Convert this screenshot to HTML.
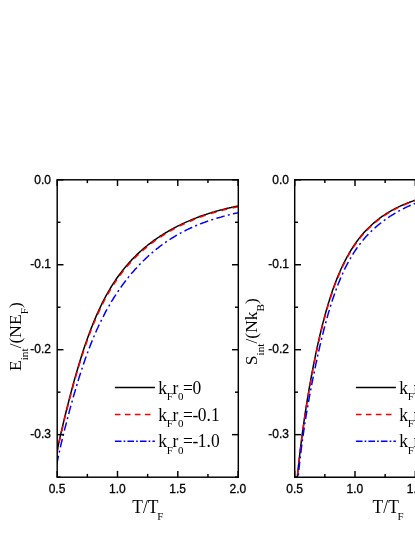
<!DOCTYPE html>
<html><head><meta charset="utf-8"><title>fig</title>
<style>
html,body{margin:0;padding:0;background:#fff;}
body{width:415px;height:537px;overflow:hidden;}
svg{display:block;will-change:transform;}
text{font-family:"Liberation Sans",sans-serif;font-size:12px;fill:#000;stroke:#000;stroke-width:0.3px;}
.se{font-family:"Liberation Serif",serif;font-size:17.5px;stroke:none;}
.sub{font-size:11.3px;}
.yl{font-size:17.5px;}
.hz{font-size:18px;}
.ax line,.ax rect,.ax path{stroke:#000;stroke-width:1.45;fill:none;stroke-linecap:butt;}
.cv path{fill:none;stroke-width:1.5;}
</style></head><body>
<svg width="415" height="537" viewBox="0 0 415 537">
<rect width="415" height="537" fill="#fff"/>
<defs>
<clipPath id="cl"><rect x="57" y="179.8" width="181" height="297.4"/></clipPath>
<clipPath id="cr"><rect x="295" y="179.8" width="130" height="297.4"/></clipPath>
</defs>
<!-- left panel -->
<g class="cv" clip-path="url(#cl)">
<path d="M56.8,452.7 L57.9,447.2 L59.0,441.8 L60.2,436.7 L61.3,431.6 L62.5,426.7 L63.6,421.9 L64.7,417.2 L65.9,412.5 L67.0,407.9 L68.2,403.4 L69.3,399.0 L70.4,394.7 L71.6,390.4 L72.7,386.2 L73.8,382.0 L75.0,377.9 L76.1,373.9 L77.3,370.0 L78.4,366.2 L79.5,362.4 L80.7,358.7 L81.8,355.1 L83.0,351.5 L84.1,348.1 L85.2,344.7 L86.4,341.4 L87.5,338.2 L88.7,335.0 L89.8,332.0 L90.9,329.0 L92.1,326.1 L93.2,323.2 L94.4,320.4 L95.5,317.7 L96.6,315.1 L97.8,312.6 L98.9,310.1 L100.1,307.6 L101.2,305.3 L102.3,302.9 L103.5,300.7 L104.6,298.5 L105.7,296.4 L106.9,294.3 L108.0,292.3 L109.2,290.3 L110.3,288.4 L111.4,286.5 L112.6,284.7 L113.7,282.9 L114.9,281.2 L116.0,279.5 L117.1,277.8 L118.3,276.2 L119.4,274.7 L120.6,273.1 L121.7,271.6 L122.8,270.2 L124.0,268.8 L125.1,267.4 L126.3,266.0 L127.4,264.7 L128.5,263.4 L129.7,262.1 L130.8,260.9 L131.9,259.6 L133.1,258.5 L134.2,257.3 L135.4,256.2 L136.5,255.0 L137.6,253.9 L138.8,252.9 L139.9,251.8 L141.1,250.8 L142.2,249.8 L143.3,248.8 L144.5,247.8 L145.6,246.9 L146.8,246.0 L147.9,245.0 L149.0,244.1 L150.2,243.3 L151.3,242.4 L152.5,241.6 L153.6,240.7 L154.7,239.9 L155.9,239.1 L157.0,238.3 L158.2,237.5 L159.3,236.8 L160.4,236.0 L161.6,235.3 L162.7,234.6 L163.8,233.9 L165.0,233.2 L166.1,232.5 L167.3,231.8 L168.4,231.1 L169.5,230.5 L170.7,229.8 L171.8,229.2 L173.0,228.6 L174.1,228.0 L175.2,227.4 L176.4,226.8 L177.5,226.2 L178.7,225.6 L179.8,225.1 L180.9,224.5 L182.1,224.0 L183.2,223.4 L184.4,222.9 L185.5,222.4 L186.6,221.9 L187.8,221.4 L188.9,220.9 L190.1,220.4 L191.2,219.9 L192.3,219.4 L193.5,219.0 L194.6,218.5 L195.7,218.1 L196.9,217.6 L198.0,217.2 L199.2,216.8 L200.3,216.3 L201.4,215.9 L202.6,215.5 L203.7,215.1 L204.9,214.7 L206.0,214.4 L207.1,214.0 L208.3,213.6 L209.4,213.2 L210.6,212.9 L211.7,212.5 L212.8,212.2 L214.0,211.9 L215.1,211.5 L216.3,211.2 L217.4,210.9 L218.5,210.6 L219.7,210.3 L220.8,209.9 L222.0,209.7 L223.1,209.4 L224.2,209.1 L225.4,208.8 L226.5,208.5 L227.6,208.2 L228.8,208.0 L229.9,207.7 L231.1,207.5 L232.2,207.2 L233.3,207.0 L234.5,206.7 L235.6,206.5 L236.8,206.3 L237.9,206.1" stroke="#000"/>
<path d="M56.8,453.9 L57.9,448.3 L59.0,443.0 L60.2,437.8 L61.3,432.8 L62.5,427.9 L63.6,423.1 L64.7,418.3 L65.9,413.7 L67.0,409.2 L68.2,404.7 L69.3,400.3 L70.4,395.9 L71.6,391.7 L72.7,387.5 L73.8,383.3 L75.0,379.3 L76.1,375.3 L77.3,371.4 L78.4,367.5 L79.5,363.8 L80.7,360.1 L81.8,356.5 L83.0,353.0 L84.1,349.5 L85.2,346.2 L86.4,342.9 L87.5,339.6 L88.7,336.5 L89.8,333.5 L90.9,330.5 L92.1,327.6 L93.2,324.7 L94.4,322.0 L95.5,319.3 L96.6,316.6 L97.8,314.1 L98.9,311.6 L100.1,309.2 L101.2,306.8 L102.3,304.5 L103.5,302.2 L104.6,300.0 L105.7,297.9 L106.9,295.8 L108.0,293.8 L109.2,291.8 L110.3,289.9 L111.4,288.0 L112.6,286.2 L113.7,284.4 L114.9,282.7 L116.0,281.0 L117.1,279.3 L118.3,277.7 L119.4,276.1 L120.6,274.6 L121.7,273.1 L122.8,271.6 L124.0,270.2 L125.1,268.8 L126.3,267.4 L127.4,266.1 L128.5,264.8 L129.7,263.5 L130.8,262.2 L131.9,261.0 L133.1,259.8 L134.2,258.6 L135.4,257.4 L136.5,256.3 L137.6,255.2 L138.8,254.1 L139.9,253.1 L141.1,252.0 L142.2,251.0 L143.3,250.0 L144.5,249.0 L145.6,248.1 L146.8,247.1 L147.9,246.2 L149.0,245.3 L150.2,244.4 L151.3,243.5 L152.5,242.6 L153.6,241.8 L154.7,241.0 L155.9,240.1 L157.0,239.3 L158.2,238.6 L159.3,237.8 L160.4,237.0 L161.6,236.3 L162.7,235.5 L163.8,234.8 L165.0,234.1 L166.1,233.4 L167.3,232.7 L168.4,232.1 L169.5,231.4 L170.7,230.7 L171.8,230.1 L173.0,229.5 L174.1,228.8 L175.2,228.2 L176.4,227.6 L177.5,227.0 L178.7,226.5 L179.8,225.9 L180.9,225.3 L182.1,224.8 L183.2,224.2 L184.4,223.7 L185.5,223.2 L186.6,222.7 L187.8,222.2 L188.9,221.7 L190.1,221.2 L191.2,220.7 L192.3,220.2 L193.5,219.7 L194.6,219.3 L195.7,218.8 L196.9,218.4 L198.0,218.0 L199.2,217.5 L200.3,217.1 L201.4,216.7 L202.6,216.3 L203.7,215.9 L204.9,215.5 L206.0,215.1 L207.1,214.7 L208.3,214.3 L209.4,214.0 L210.6,213.6 L211.7,213.3 L212.8,212.9 L214.0,212.6 L215.1,212.2 L216.3,211.9 L217.4,211.6 L218.5,211.3 L219.7,211.0 L220.8,210.7 L222.0,210.4 L223.1,210.1 L224.2,209.8 L225.4,209.5 L226.5,209.2 L227.6,208.9 L228.8,208.7 L229.9,208.4 L231.1,208.2 L232.2,207.9 L233.3,207.7 L234.5,207.4 L235.6,207.2 L236.8,207.0 L237.9,206.7" stroke="#f00" stroke-dasharray="6 5.2"/>
<path d="M56.8,464.2 L57.9,458.6 L59.0,453.2 L60.2,448.1 L61.3,443.1 L62.5,438.4 L63.6,433.7 L64.7,429.1 L65.9,424.7 L67.0,420.3 L68.2,415.9 L69.3,411.6 L70.4,407.4 L71.6,403.3 L72.7,399.2 L73.8,395.2 L75.0,391.3 L76.1,387.4 L77.3,383.6 L78.4,379.9 L79.5,376.3 L80.7,372.7 L81.8,369.2 L83.0,365.8 L84.1,362.4 L85.2,359.1 L86.4,355.9 L87.5,352.8 L88.7,349.8 L89.8,346.8 L90.9,343.9 L92.1,341.0 L93.2,338.2 L94.4,335.5 L95.5,332.9 L96.6,330.3 L97.8,327.8 L98.9,325.3 L100.1,322.9 L101.2,320.6 L102.3,318.3 L103.5,316.1 L104.6,313.9 L105.7,311.7 L106.9,309.6 L108.0,307.6 L109.2,305.6 L110.3,303.6 L111.4,301.7 L112.6,299.8 L113.7,298.0 L114.9,296.2 L116.0,294.4 L117.1,292.7 L118.3,291.0 L119.4,289.3 L120.6,287.7 L121.7,286.1 L122.8,284.5 L124.0,283.0 L125.1,281.5 L126.3,280.0 L127.4,278.6 L128.5,277.1 L129.7,275.7 L130.8,274.4 L131.9,273.0 L133.1,271.7 L134.2,270.4 L135.4,269.1 L136.5,267.9 L137.6,266.6 L138.8,265.4 L139.9,264.2 L141.1,263.1 L142.2,261.9 L143.3,260.8 L144.5,259.7 L145.6,258.6 L146.8,257.5 L147.9,256.5 L149.0,255.4 L150.2,254.4 L151.3,253.4 L152.5,252.4 L153.6,251.5 L154.7,250.5 L155.9,249.6 L157.0,248.7 L158.2,247.8 L159.3,246.9 L160.4,246.0 L161.6,245.2 L162.7,244.3 L163.8,243.5 L165.0,242.7 L166.1,241.9 L167.3,241.1 L168.4,240.4 L169.5,239.6 L170.7,238.9 L171.8,238.2 L173.0,237.5 L174.1,236.8 L175.2,236.1 L176.4,235.4 L177.5,234.8 L178.7,234.1 L179.8,233.5 L180.9,232.9 L182.1,232.3 L183.2,231.7 L184.4,231.1 L185.5,230.5 L186.6,229.9 L187.8,229.4 L188.9,228.8 L190.1,228.3 L191.2,227.8 L192.3,227.3 L193.5,226.7 L194.6,226.3 L195.7,225.8 L196.9,225.3 L198.0,224.8 L199.2,224.4 L200.3,223.9 L201.4,223.5 L202.6,223.0 L203.7,222.6 L204.9,222.2 L206.0,221.8 L207.1,221.4 L208.3,221.0 L209.4,220.6 L210.6,220.2 L211.7,219.8 L212.8,219.5 L214.0,219.1 L215.1,218.7 L216.3,218.4 L217.4,218.0 L218.5,217.7 L219.7,217.4 L220.8,217.1 L222.0,216.7 L223.1,216.4 L224.2,216.1 L225.4,215.8 L226.5,215.5 L227.6,215.2 L228.8,214.9 L229.9,214.6 L231.1,214.3 L232.2,214.1 L233.3,213.8 L234.5,213.5 L235.6,213.2 L236.8,213.0 L237.9,212.7" stroke="#00f" stroke-dasharray="8.6 3.3 2 3.3"/>
</g>
<g class="ax">
<rect x="57.2" y="179.8" width="181.1" height="297.4"/>
<line x1="57.20" y1="179.8" x2="57.20" y2="186.10000000000002"/>
<line x1="57.20" y1="477.2" x2="57.20" y2="470.9"/>
<line x1="87.35" y1="179.8" x2="87.35" y2="183.10000000000002"/>
<line x1="87.35" y1="477.2" x2="87.35" y2="473.9"/>
<line x1="117.50" y1="179.8" x2="117.50" y2="186.10000000000002"/>
<line x1="117.50" y1="477.2" x2="117.50" y2="470.9"/>
<line x1="147.65" y1="179.8" x2="147.65" y2="183.10000000000002"/>
<line x1="147.65" y1="477.2" x2="147.65" y2="473.9"/>
<line x1="177.80" y1="179.8" x2="177.80" y2="186.10000000000002"/>
<line x1="177.80" y1="477.2" x2="177.80" y2="470.9"/>
<line x1="207.95" y1="179.8" x2="207.95" y2="183.10000000000002"/>
<line x1="207.95" y1="477.2" x2="207.95" y2="473.9"/>
<line x1="238.10" y1="179.8" x2="238.10" y2="186.10000000000002"/>
<line x1="238.10" y1="477.2" x2="238.10" y2="470.9"/>
<line x1="57.2" y1="179.80" x2="63.5" y2="179.80"/>
<line x1="238.3" y1="179.80" x2="232.0" y2="179.80"/>
<line x1="57.2" y1="222.28" x2="60.5" y2="222.28"/>
<line x1="238.3" y1="222.28" x2="235.0" y2="222.28"/>
<line x1="57.2" y1="264.75" x2="63.5" y2="264.75"/>
<line x1="238.3" y1="264.75" x2="232.0" y2="264.75"/>
<line x1="57.2" y1="307.23" x2="60.5" y2="307.23"/>
<line x1="238.3" y1="307.23" x2="235.0" y2="307.23"/>
<line x1="57.2" y1="349.70" x2="63.5" y2="349.70"/>
<line x1="238.3" y1="349.70" x2="232.0" y2="349.70"/>
<line x1="57.2" y1="392.18" x2="60.5" y2="392.18"/>
<line x1="238.3" y1="392.18" x2="235.0" y2="392.18"/>
<line x1="57.2" y1="434.65" x2="63.5" y2="434.65"/>
<line x1="238.3" y1="434.65" x2="232.0" y2="434.65"/>
<line x1="57.2" y1="477.12" x2="60.5" y2="477.12"/>
<line x1="238.3" y1="477.12" x2="235.0" y2="477.12"/>
</g>
<text x="51" y="183.5" text-anchor="end">0.0</text>
<text x="51" y="268.4" text-anchor="end">-0.1</text>
<text x="51" y="353.4" text-anchor="end">-0.2</text>
<text x="51" y="438.4" text-anchor="end">-0.3</text>
<text x="57.0" y="492.6" text-anchor="middle">0.5</text>
<text x="117.3" y="492.6" text-anchor="middle">1.0</text>
<text x="177.6" y="492.6" text-anchor="middle">1.5</text>
<text x="237.9" y="492.6" text-anchor="middle">2.0</text>
<line x1="114.9" y1="387.5" x2="154.9" y2="387.5" stroke="#000" stroke-width="1.5"/>
<text class="se hz" transform="translate(158.3,393.5) scale(0.972,1)">k<tspan class="sub" dy="6.6" dx="-0.3">F</tspan><tspan dy="-6.6" dx="-0.45">r</tspan><tspan class="sub" dy="6.6" dx="-0.15">0</tspan><tspan dy="-6.6" dx="-0.5">=</tspan><tspan dx="-0.5">0</tspan><tspan dx="0"></tspan></text>
<line x1="114.9" y1="414.5" x2="154.9" y2="414.5" stroke="#f00" stroke-width="1.5" stroke-dasharray="5.6 4.4"/>
<text class="se hz" transform="translate(158.3,420.5) scale(0.972,1)">k<tspan class="sub" dy="6.6" dx="-0.3">F</tspan><tspan dy="-6.6" dx="-0.45">r</tspan><tspan class="sub" dy="6.6" dx="-0.15">0</tspan><tspan dy="-6.6" dx="-0.5">=</tspan><tspan dx="-0.5">-</tspan><tspan dx="-0.5">0.1</tspan></text>
<line x1="114.9" y1="441.3" x2="154.9" y2="441.3" stroke="#00f" stroke-width="1.5" stroke-dasharray="6.6 2.1 1.7 2.1"/>
<text class="se hz" transform="translate(158.3,447.3) scale(0.972,1)">k<tspan class="sub" dy="6.6" dx="-0.3">F</tspan><tspan dy="-6.6" dx="-0.45">r</tspan><tspan class="sub" dy="6.6" dx="-0.15">0</tspan><tspan dy="-6.6" dx="-0.5">=</tspan><tspan dx="-0.5">-</tspan><tspan dx="-0.5">1.0</tspan></text>
<text class="se hz" transform="translate(132.3,512.8) scale(0.972,1)">T/T<tspan class="sub" dy="7.2" dx="-1.3">F</tspan></text>
<text class="se yl" transform="translate(21,371) rotate(-90)">E<tspan class="sub" dy="6.6" dx="0">int</tspan><tspan dy="-6.6" dx="0">/(NE</tspan><tspan class="sub" dy="6.6" dx="0">F</tspan><tspan dy="-6.6" dx="0">)</tspan></text>
<!-- right panel -->
<g class="cv" clip-path="url(#cr)">
<path d="M294.8,506.2 L295.8,493.3 L296.9,481.6 L297.9,470.9 L299.0,461.0 L300.0,451.9 L301.1,443.3 L302.1,435.1 L303.2,427.4 L304.2,420.0 L305.2,413.0 L306.3,406.2 L307.3,399.6 L308.4,393.3 L309.4,387.2 L310.5,381.3 L311.5,375.5 L312.6,369.9 L313.6,364.5 L314.7,359.3 L315.7,354.2 L316.8,349.2 L317.8,344.4 L318.9,339.7 L319.9,335.2 L321.0,330.8 L322.0,326.5 L323.1,322.4 L324.1,318.4 L325.2,314.5 L326.2,310.8 L327.3,307.1 L328.3,303.6 L329.4,300.2 L330.4,296.9 L331.5,293.7 L332.5,290.6 L333.6,287.6 L334.6,284.7 L335.7,281.9 L336.7,279.2 L337.8,276.6 L338.8,274.1 L339.9,271.7 L340.9,269.3 L342.0,267.0 L343.0,264.8 L344.1,262.7 L345.1,260.6 L346.2,258.6 L347.2,256.6 L348.3,254.8 L349.3,253.0 L350.4,251.2 L351.4,249.5 L352.5,247.8 L353.5,246.2 L354.5,244.7 L355.6,243.2 L356.6,241.7 L357.7,240.3 L358.7,238.9 L359.8,237.6 L360.8,236.3 L361.9,235.0 L362.9,233.8 L364.0,232.6 L365.0,231.5 L366.1,230.4 L367.1,229.3 L368.2,228.2 L369.2,227.2 L370.3,226.2 L371.3,225.2 L372.4,224.2 L373.4,223.3 L374.5,222.4 L375.5,221.5 L376.6,220.7 L377.6,219.8 L378.7,219.0 L379.7,218.2 L380.8,217.5 L381.8,216.7 L382.9,216.0 L383.9,215.3 L385.0,214.6 L386.0,213.9 L387.1,213.2 L388.1,212.6 L389.2,211.9 L390.2,211.3 L391.3,210.7 L392.3,210.1 L393.4,209.6 L394.4,209.0 L395.5,208.4 L396.5,207.9 L397.6,207.4 L398.6,206.9 L399.7,206.4 L400.7,205.9 L401.8,205.4 L402.8,205.0 L403.8,204.5 L404.9,204.1 L405.9,203.6 L407.0,203.2 L408.0,202.8 L409.1,202.4 L410.1,202.0 L411.2,201.6 L412.2,201.3 L413.3,200.9 L414.3,200.5 L415.4,200.2 L416.4,199.9 L417.5,199.5 L418.5,199.2 L419.6,198.9 L420.6,198.6 L421.7,198.3 L422.7,198.0 L423.8,197.7 L424.8,197.5 L425.9,197.2 L426.9,196.9 L428.0,196.7 L429.0,196.4 L430.1,196.2" stroke="#000"/>
<path d="M294.8,508.1 L295.8,494.8 L296.9,482.8 L297.9,472.0 L299.0,462.0 L300.0,452.7 L301.1,444.1 L302.1,436.0 L303.2,428.3 L304.2,421.0 L305.2,413.9 L306.3,407.2 L307.3,400.7 L308.4,394.4 L309.4,388.3 L310.5,382.4 L311.5,376.7 L312.6,371.2 L313.6,365.8 L314.7,360.5 L315.7,355.4 L316.8,350.5 L317.8,345.7 L318.9,341.0 L319.9,336.5 L321.0,332.1 L322.0,327.8 L323.1,323.7 L324.1,319.6 L325.2,315.7 L326.2,312.0 L327.3,308.3 L328.3,304.8 L329.4,301.3 L330.4,298.0 L331.5,294.8 L332.5,291.7 L333.6,288.7 L334.6,285.8 L335.7,283.0 L336.7,280.3 L337.8,277.6 L338.8,275.1 L339.9,272.6 L340.9,270.3 L342.0,268.0 L343.0,265.7 L344.1,263.6 L345.1,261.5 L346.2,259.5 L347.2,257.5 L348.3,255.7 L349.3,253.8 L350.4,252.1 L351.4,250.3 L352.5,248.7 L353.5,247.1 L354.5,245.5 L355.6,244.0 L356.6,242.5 L357.7,241.1 L358.7,239.7 L359.8,238.4 L360.8,237.1 L361.9,235.8 L362.9,234.6 L364.0,233.4 L365.0,232.2 L366.1,231.1 L367.1,230.0 L368.2,228.9 L369.2,227.9 L370.3,226.9 L371.3,225.9 L372.4,225.0 L373.4,224.0 L374.5,223.1 L375.5,222.2 L376.6,221.4 L377.6,220.5 L378.7,219.7 L379.7,218.9 L380.8,218.1 L381.8,217.4 L382.9,216.6 L383.9,215.9 L385.0,215.2 L386.0,214.5 L387.1,213.8 L388.1,213.2 L389.2,212.5 L390.2,211.9 L391.3,211.3 L392.3,210.7 L393.4,210.1 L394.4,209.5 L395.5,209.0 L396.5,208.4 L397.6,207.9 L398.6,207.4 L399.7,206.9 L400.7,206.4 L401.8,205.9 L402.8,205.4 L403.8,205.0 L404.9,204.5 L405.9,204.1 L407.0,203.7 L408.0,203.2 L409.1,202.8 L410.1,202.4 L411.2,202.0 L412.2,201.7 L413.3,201.3 L414.3,200.9 L415.4,200.6 L416.4,200.2 L417.5,199.9 L418.5,199.6 L419.6,199.2 L420.6,198.9 L421.7,198.6 L422.7,198.3 L423.8,198.0 L424.8,197.7 L425.9,197.5 L426.9,197.2 L428.0,196.9 L429.0,196.7 L430.1,196.4" stroke="#f00" stroke-dasharray="6 5.2"/>
<path d="M294.8,521.6 L295.8,505.5 L296.9,491.7 L297.9,479.6 L299.0,468.9 L300.0,459.2 L301.1,450.5 L302.1,442.4 L303.2,434.9 L304.2,427.8 L305.2,421.1 L306.3,414.6 L307.3,408.5 L308.4,402.5 L309.4,396.7 L310.5,391.1 L311.5,385.6 L312.6,380.2 L313.6,375.0 L314.7,369.9 L315.7,364.9 L316.8,360.0 L317.8,355.2 L318.9,350.5 L319.9,345.9 L321.0,341.5 L322.0,337.1 L323.1,332.9 L324.1,328.8 L325.2,324.8 L326.2,320.9 L327.3,317.1 L328.3,313.4 L329.4,309.9 L330.4,306.4 L331.5,303.1 L332.5,299.8 L333.6,296.7 L334.6,293.7 L335.7,290.7 L336.7,287.9 L337.8,285.1 L338.8,282.5 L339.9,279.9 L340.9,277.4 L342.0,275.0 L343.0,272.7 L344.1,270.4 L345.1,268.2 L346.2,266.1 L347.2,264.1 L348.3,262.1 L349.3,260.2 L350.4,258.4 L351.4,256.6 L352.5,254.9 L353.5,253.2 L354.5,251.6 L355.6,250.0 L356.6,248.5 L357.7,247.0 L358.7,245.6 L359.8,244.2 L360.8,242.9 L361.9,241.5 L362.9,240.3 L364.0,239.0 L365.0,237.8 L366.1,236.6 L367.1,235.5 L368.2,234.4 L369.2,233.3 L370.3,232.3 L371.3,231.2 L372.4,230.2 L373.4,229.2 L374.5,228.3 L375.5,227.3 L376.6,226.4 L377.6,225.5 L378.7,224.7 L379.7,223.8 L380.8,223.0 L381.8,222.2 L382.9,221.4 L383.9,220.6 L385.0,219.8 L386.0,219.1 L387.1,218.4 L388.1,217.6 L389.2,216.9 L390.2,216.2 L391.3,215.6 L392.3,214.9 L393.4,214.3 L394.4,213.6 L395.5,213.0 L396.5,212.4 L397.6,211.8 L398.6,211.2 L399.7,210.6 L400.7,210.1 L401.8,209.5 L402.8,209.0 L403.8,208.5 L404.9,207.9 L405.9,207.4 L407.0,206.9 L408.0,206.4 L409.1,206.0 L410.1,205.5 L411.2,205.0 L412.2,204.6 L413.3,204.1 L414.3,203.7 L415.4,203.3 L416.4,202.9 L417.5,202.5 L418.5,202.1 L419.6,201.7 L420.6,201.3 L421.7,200.9 L422.7,200.6 L423.8,200.2 L424.8,199.9 L425.9,199.5 L426.9,199.2 L428.0,198.9 L429.0,198.6 L430.1,198.3" stroke="#00f" stroke-dasharray="8.6 3.3 2 3.3"/>
</g>
<g class="ax">
<path d="M420,179.8 H294.7 V477.2 H420"/>
<line x1="294.70" y1="179.8" x2="294.70" y2="186.10000000000002"/>
<line x1="294.70" y1="477.2" x2="294.70" y2="470.9"/>
<line x1="324.85" y1="179.8" x2="324.85" y2="183.10000000000002"/>
<line x1="324.85" y1="477.2" x2="324.85" y2="473.9"/>
<line x1="355.00" y1="179.8" x2="355.00" y2="186.10000000000002"/>
<line x1="355.00" y1="477.2" x2="355.00" y2="470.9"/>
<line x1="385.15" y1="179.8" x2="385.15" y2="183.10000000000002"/>
<line x1="385.15" y1="477.2" x2="385.15" y2="473.9"/>
<line x1="415.30" y1="179.8" x2="415.30" y2="186.10000000000002"/>
<line x1="415.30" y1="477.2" x2="415.30" y2="470.9"/>
<line x1="294.7" y1="179.80" x2="301.0" y2="179.80"/>
<line x1="294.7" y1="222.28" x2="298.0" y2="222.28"/>
<line x1="294.7" y1="264.75" x2="301.0" y2="264.75"/>
<line x1="294.7" y1="307.23" x2="298.0" y2="307.23"/>
<line x1="294.7" y1="349.70" x2="301.0" y2="349.70"/>
<line x1="294.7" y1="392.18" x2="298.0" y2="392.18"/>
<line x1="294.7" y1="434.65" x2="301.0" y2="434.65"/>
<line x1="294.7" y1="477.12" x2="298.0" y2="477.12"/>
</g>
<text x="289" y="183.5" text-anchor="end">0.0</text>
<text x="289" y="268.4" text-anchor="end">-0.1</text>
<text x="289" y="353.4" text-anchor="end">-0.2</text>
<text x="289" y="438.4" text-anchor="end">-0.3</text>
<text x="294.6" y="492.6" text-anchor="middle">0.5</text>
<text x="354.9" y="492.6" text-anchor="middle">1.0</text>
<text x="415.2" y="492.6" text-anchor="middle">1.5</text>
<line x1="355.9" y1="387.5" x2="395.9" y2="387.5" stroke="#000" stroke-width="1.5"/>
<text class="se hz" transform="translate(399.3,393.5) scale(0.972,1)">k<tspan class="sub" dy="6.6" dx="-0.3">F</tspan><tspan dy="-6.6" dx="-0.45">r</tspan><tspan class="sub" dy="6.6" dx="-0.15">0</tspan><tspan dy="-6.6" dx="-0.5">=</tspan><tspan dx="-0.5">0</tspan><tspan dx="0"></tspan></text>
<line x1="355.9" y1="414.5" x2="395.9" y2="414.5" stroke="#f00" stroke-width="1.5" stroke-dasharray="5.6 4.4"/>
<text class="se hz" transform="translate(399.3,420.5) scale(0.972,1)">k<tspan class="sub" dy="6.6" dx="-0.3">F</tspan><tspan dy="-6.6" dx="-0.45">r</tspan><tspan class="sub" dy="6.6" dx="-0.15">0</tspan><tspan dy="-6.6" dx="-0.5">=</tspan><tspan dx="-0.5">-</tspan><tspan dx="-0.5">0.1</tspan></text>
<line x1="355.9" y1="441.3" x2="395.9" y2="441.3" stroke="#00f" stroke-width="1.5" stroke-dasharray="6.6 2.1 1.7 2.1"/>
<text class="se hz" transform="translate(399.3,447.3) scale(0.972,1)">k<tspan class="sub" dy="6.6" dx="-0.3">F</tspan><tspan dy="-6.6" dx="-0.45">r</tspan><tspan class="sub" dy="6.6" dx="-0.15">0</tspan><tspan dy="-6.6" dx="-0.5">=</tspan><tspan dx="-0.5">-</tspan><tspan dx="-0.5">1.0</tspan></text>
<text class="se hz" transform="translate(372.6,512.8) scale(0.972,1)">T/T<tspan class="sub" dy="7.2" dx="-1.3">F</tspan></text>
<text class="se yl" transform="translate(257,365.2) rotate(-90)">S<tspan class="sub" dy="6.6" dx="0">int</tspan><tspan dy="-6.6" dx="0">/(Nk</tspan><tspan class="sub" dy="6.6" dx="0">B</tspan><tspan dy="-6.6" dx="0">)</tspan></text>
</svg>
</body></html>
